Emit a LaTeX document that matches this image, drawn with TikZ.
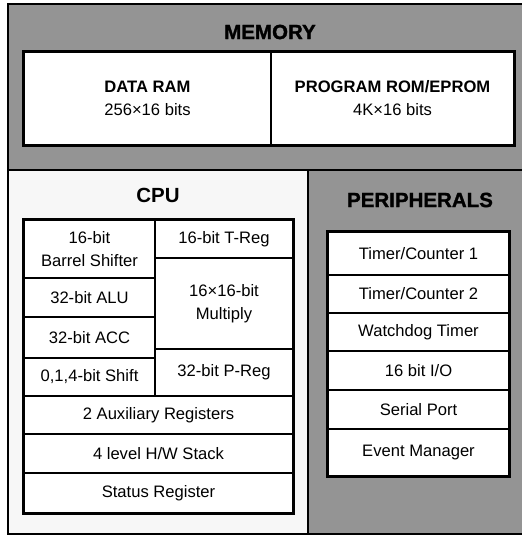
\documentclass[tikz,border=0pt]{standalone}
\usepackage{fontspec}
\setmainfont{Liberation Sans}
\newfontfamily\heavyfont{Liberation Sans}[BoldFeatures={FakeBold=1.4}]
\usepackage{tikz}

\begin{document}
\begin{tikzpicture}[x=1pt,y=-1pt,
	every node/.style={font=\fontsize{16.6}{23}\selectfont},
	cell/.style={draw, line width=1.1pt, inner sep=0pt, align=center},
	frame/.style={draw, line width=2pt},
	title/.style={font=\fontsize{20.5}{24}\selectfont\bfseries},
	heavytitle/.style={font=\fontsize{20.5}{24}\selectfont\heavyfont\bfseries}]
	\useasboundingbox (0,0) rectangle (522,536);
	\fill[black!42] (8,4) rectangle (522,170);
	\fill[black!3] (8,170) rectangle (308,534);
	\fill[black!42] (308,170) rectangle (522,534);
	\draw[line width=1.4pt] (8,170) -- (522,170);
	\draw[line width=1.4pt] (308,170) -- (308,534);
	\draw[line width=1.6pt] (8,4) rectangle (523,534);
	
	\node[heavytitle] (memtitle) at (270,32) {MEMORY};
	\fill[white] (24,52) rectangle (514,145);
	\node[cell, minimum width=247, minimum height=93] (dram) at (147.5,98.5) {\textbf{DATA RAM}\\256×16 bits};
	\node[cell, minimum width=243, minimum height=93] (prom) at (392.5,98.5) {\textbf{PROGRAM ROM/EPROM}\\4K×16 bits};
	\draw[frame] (dram.north west) rectangle (prom.south east);
	
	\node[title] (cputitle) at (158,195) {CPU};
	\fill[white] (24,220) rectangle (293,513);
	\node[cell, minimum width=131, minimum height=58] (shifter) at (89.5,249) {16-bit\\Barrel Shifter};
	\node[cell, minimum width=131, minimum height=39] (alu) at (89.5,297.5) {32-bit ALU};
	\node[cell, minimum width=131, minimum height=41] (acc) at (89.5,337.5) {32-bit ACC};
	\node[cell, minimum width=131, minimum height=38] (shift) at (89.5,377) {0,1,4-bit Shift};
	\node[cell, minimum width=138, minimum height=38] (treg) at (224,239) {16-bit T-Reg};
	\node[cell, minimum width=138, minimum height=91] (mult) at (224,303.5) {16×16-bit\\Multiply};
	\node[cell, minimum width=138, minimum height=47] (preg) at (224,372.5) {32-bit P-Reg};
	\node[cell, minimum width=269, minimum height=38] (aux) at (158.5,415) {2 Auxiliary Registers};
	\node[cell, minimum width=269, minimum height=39] (stack) at (158.5,453.5) {4 level H/W Stack};
	\node[cell, minimum width=269, minimum height=40] (status) at (158.5,493) {Status Register};
	\draw[frame] (shifter.north west) rectangle (status.south east);
	
	\node[heavytitle] (perititle) at (420,200) {PERIPHERALS};
	\fill[white] (328,232) rectangle (509,476);
	\node[cell, minimum width=181, minimum height=43] (timer1) at (418.5,253.5) {Timer/Counter 1};
	\node[cell, minimum width=181, minimum height=38] (timer2) at (418.5,294) {Timer/Counter 2};
	\node[cell, minimum width=181, minimum height=38] (wdog) at (418.5,332) {Watchdog Timer};
	\node[cell, minimum width=181, minimum height=39] (io) at (418.5,370.5) {16 bit I/O};
	\node[cell, minimum width=181, minimum height=39] (serial) at (418.5,409.5) {Serial Port};
	\node[cell, minimum width=181, minimum height=47] (event) at (418.5,452.5) {Event Manager};
	\draw[frame] (timer1.north west) rectangle (event.south east);
	
\end{tikzpicture}
\end{document}
